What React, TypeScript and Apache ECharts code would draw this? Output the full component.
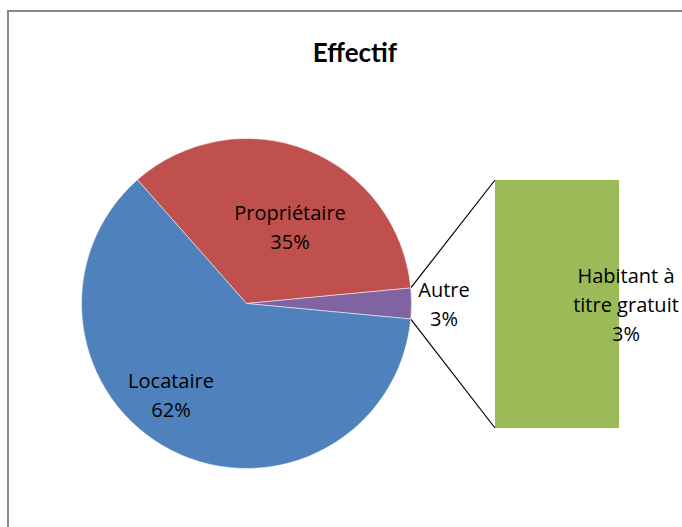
import React, { useEffect, useRef } from "react";
import * as echarts from "echarts";

const pieNames = ["Propriétaire", "Autre", "Locataire"];
const pieValues = [35, 3, 62];
const pieColors = ["#C0504D", "#8064A2", "#4F81BD"];
const barNames = ["Habitant à\ntitre gratuit"];
const barValues = [3];
const barColor = "#9BBB59";

const TITLE_FONT = "Lato, 'Open Sans', sans-serif";
const FONT = "'Open Sans', Lato, sans-serif";

export default function App() {
  const ref = useRef<HTMLDivElement>(null);
  useEffect(() => {
    if (!ref.current) return;
    const chart = echarts.init(ref.current, undefined, { renderer: "svg" });
    const total = pieValues.reduce((a, b) => a + b, 0);
    const autreIdx = pieNames.indexOf("Autre");
    const half = (pieValues[autreIdx] / total) * 360 / 2;
    const startAngle = half + (pieValues[0] / total) * 360;
    const cx = 246.5, cy = 303.5, r = 165;
    const gLeft = 495, gTop = 180, gW = 124, gH = 248;
    const rad = (half * Math.PI) / 180;
    const p1 = [cx + r * Math.cos(rad), cy - r * Math.sin(rad)];
    const p2 = [cx + r * Math.cos(rad), cy + r * Math.sin(rad)];
    const labelPos: Record<string, [number, number]> = {
      "Propriétaire": [290, 227],
      "Autre": [444, 304],
      "Locataire": [171, 395],
    };
    chart.setOption({
      animation: false,
      backgroundColor: "#ffffff",
      title: {
        text: "Effectif",
        left: 350,
        top: 34,
        textAlign: "center",
        textStyle: { fontFamily: TITLE_FONT, fontWeight: "bold", fontSize: 26, color: "#000" },
      },
      grid: { left: gLeft, top: gTop, width: gW, height: gH },
      xAxis: { type: "category", data: barNames, show: false },
      yAxis: { type: "value", min: 0, max: barValues[0], show: false },
      series: [
        {
          type: "pie",
          center: [cx, cy],
          radius: r,
          startAngle,
          clockwise: true,
          silent: true,
          data: pieNames.map((n, i) => ({ name: n, value: pieValues[i], itemStyle: { color: pieColors[i] } })),
          itemStyle: { borderColor: "#ffffff", borderWidth: 0.5 },
          label: {
            show: true,
            position: "inside",
            formatter: (p: any) => `${p.name}\n${Math.round(p.percent)}%`,
            fontFamily: FONT,
            fontSize: 20,
            lineHeight: 29,
            color: "#000",
            align: "center",
          },
          labelLine: { show: false },
          labelLayout: (params: any) => {
            const name = pieNames[params.dataIndex];
            const pos = labelPos[name];
            return { x: pos[0], y: pos[1], align: "center", verticalAlign: "middle" };
          },
        },
        {
          type: "bar",
          data: barValues.map((v) => ({ value: v, itemStyle: { color: barColor } })),
          barWidth: "100%",
          silent: true,
          label: {
            show: true,
            position: "inside",
            offset: [69, 0],
            formatter: (p: any) => `${p.name}\n${Math.round((p.value / total) * 100)}%`,
            fontFamily: FONT,
            fontSize: 20,
            lineHeight: 29,
            color: "#000",
          },
        },
      ],
      graphic: [
        {
          type: "rect",
          shape: { x: 8, y: 11, width: 720, height: 600 },
          style: { fill: "none", stroke: "#8a8a8a", lineWidth: 2 },
          silent: true,
        },
        {
          type: "line",
          shape: { x1: p1[0], y1: p1[1], x2: gLeft, y2: gTop },
          style: { stroke: "#000", lineWidth: 1.2 },
          silent: true,
        },
        {
          type: "line",
          shape: { x1: p2[0], y1: p2[1], x2: gLeft, y2: gTop + gH },
          style: { stroke: "#000", lineWidth: 1.2 },
          silent: true,
        },
      ],
    });
    return () => chart.dispose();
  }, []);
  return (
    <div
      ref={ref}
      style={{ position: "fixed", left: 0, top: 0, width: 682, height: 527 }}
    />
  );
}
